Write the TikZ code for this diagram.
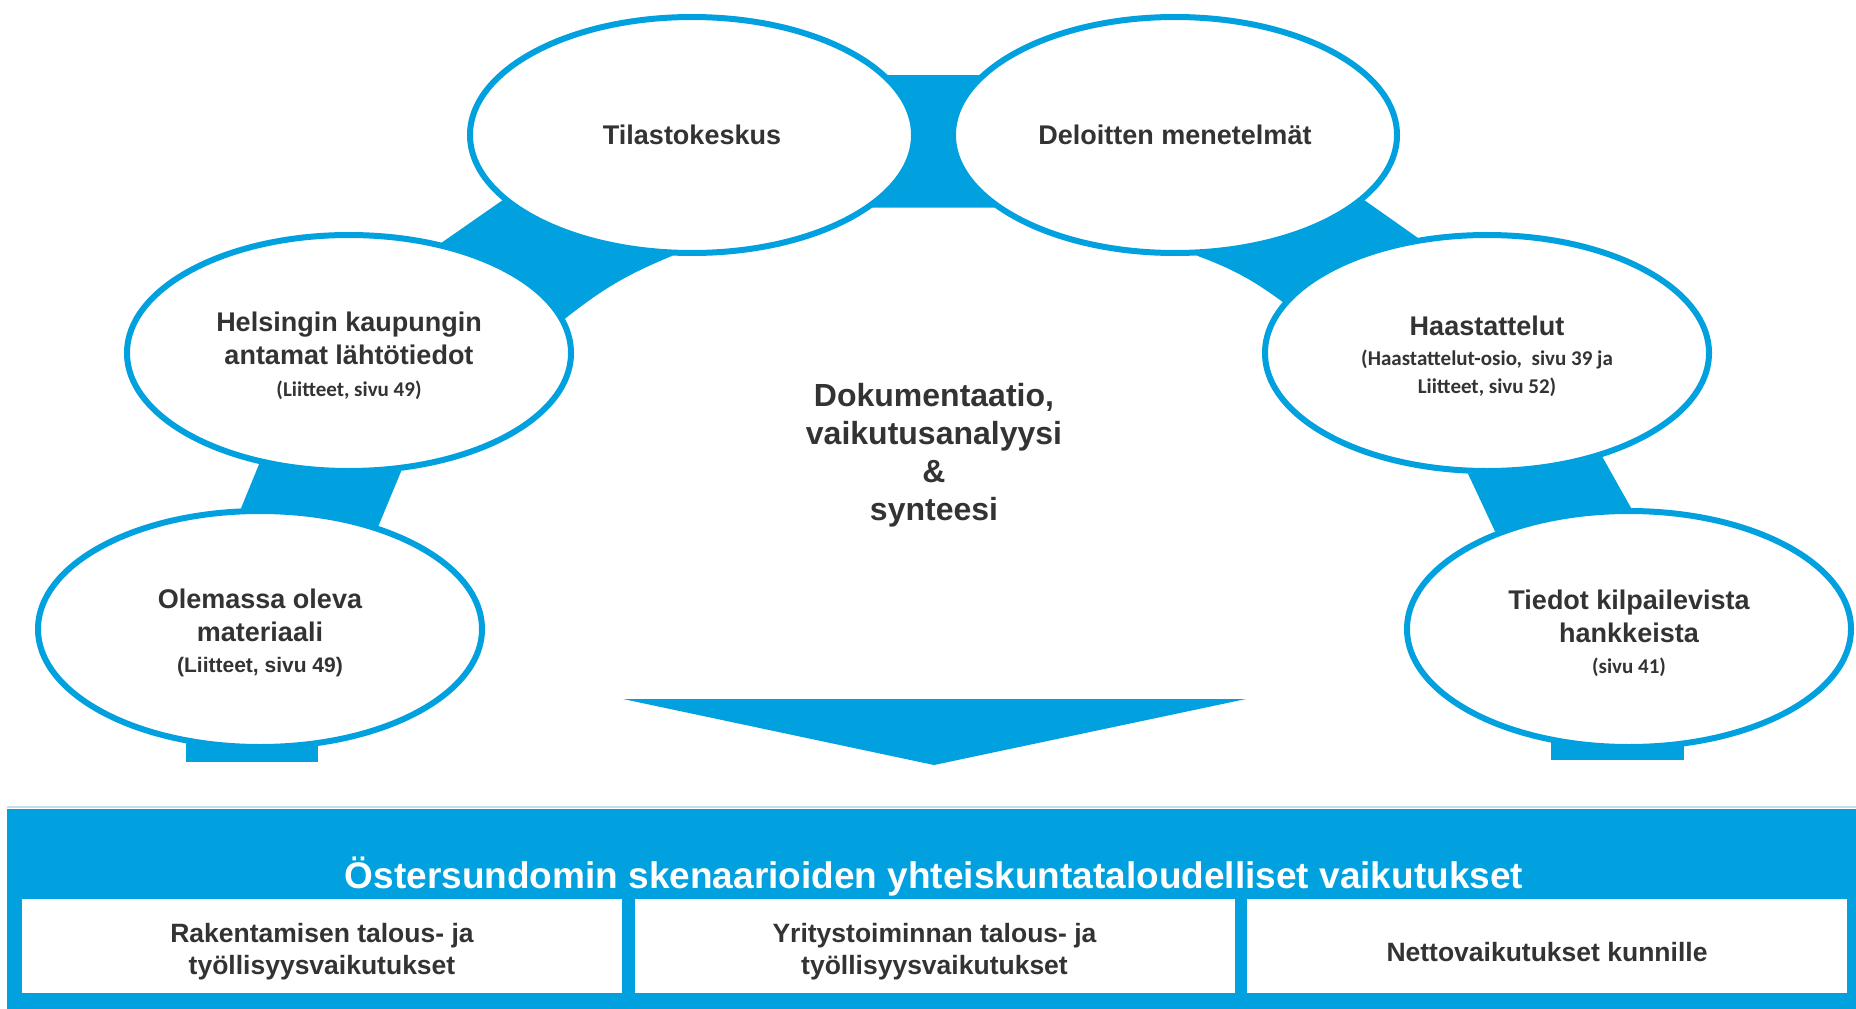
\documentclass[tikz,border=0pt]{standalone}
\usepackage{fontspec}
\setmainfont{Liberation Sans}
\newfontfamily\calibri{Carlito}
\usepackage{xcolor}
\usetikzlibrary{shapes.geometric,backgrounds,calc}

\definecolor{ringblue}{RGB}{0,161,222}
\definecolor{txtgray}{RGB}{51,51,51}
\definecolor{rimline}{RGB}{196,222,236}
\newcommand{\sivu}[1]{{\calibri\fontsize{21}{25}\selectfont #1}}
\newcommand{\drop}[1]{\rule{0pt}{#1}}

\begin{document}
\begin{tikzpicture}[x=1pt, y=-1pt,
      bubble/.style={ellipse, draw=ringblue, line width=6pt, fill=white,
         minimum width=444pt, minimum height=236pt, inner sep=0pt,
         align=center, text=txtgray, font=\bfseries\fontsize{27}{33}\selectfont},
      effect/.style={fill=white, minimum width=600pt, minimum height=94pt,
         inner sep=0pt, align=center, text=txtgray,
         font=\bfseries\fontsize{26.5}{32}\selectfont}]
      \useasboundingbox (0,0) rectangle (1856,1009);

      \node[bubble, name=tila] at (692,135) {Tilastokeskus};
      \node[bubble, name=deloitte] at (1175,135) {Deloitten menetelmät};
      \node[bubble, name=hels] at (349,353) {\drop{26pt}Helsingin kaupungin\\antamat lähtötiedot\\[-1pt]\sivu{(Liitteet, sivu 49)}};
      \node[bubble, name=haast] at (1487,353) {\drop{26pt}Haastattelut\\[-3pt]\sivu{(Haastattelut-osio,\ \ sivu 39 ja}\\[-5pt]\sivu{Liitteet, sivu 52)}};
      \node[bubble, name=olem] at (260,629) {\drop{28pt}Olemassa oleva\\materiaali\\[-2pt]{\fontsize{21}{25}\selectfont (Liitteet, sivu 49)}};
      \node[bubble, name=tiedot] at (1629,629) {\drop{28pt}Tiedot kilpailevista\\hankkeista\\[-2pt]\sivu{(sivu 41)}};

      \node[align=center, text=txtgray, font=\bfseries\fontsize{32}{38}\selectfont, name=synteesi] at (934,455)
         {Dokumentaatio,\\vaikutusanalyysi\\\&\\synteesi};

      \fill[ringblue] (623,699) -- (1246,699) -- (934,765) -- cycle;

      \fill[ringblue] (7,809) rectangle (1856,1009);
      \draw[rimline, line width=2pt] (7,807) -- (1856,807);
      \node[text=white, font=\bfseries\fontsize{37}{42}\selectfont, name=otsikko] at (934,877)
         {Östersundomin skenaarioiden yhteiskuntataloudelliset vaikutukset};
      \node[effect, name=rak] at (322,946) {\drop{31pt}Rakentamisen talous- ja\\työllisyysvaikutukset};
      \node[effect, name=yri] at (934.5,946) {\drop{31pt}Yritystoiminnan talous- ja\\työllisyysvaikutukset};
      \node[effect, name=netto] at (1547,946) {\drop{31pt}Nettovaikutukset kunnille};

      \begin{scope}[on background layer]
         \fill[white] (0,0) rectangle (1856,1009);
         \fill[ringblue] (tila.17) -- (deloitte.163) -- (deloitte.202) -- (tila.338) -- cycle;
         \fill[ringblue] (tila.199) -- (hels.50) -- (hels.9) to[bend left=8] (tila.261) -- cycle;
         \fill[ringblue] (deloitte.341) -- (haast.121) -- (haast.166) to[bend right=8] (deloitte.280) -- cycle;
         \fill[ringblue] (hels.231) -- (hels.294) -- (olem.41) -- (olem.99) -- cycle;
         \fill[ringblue] (haast.261) -- (haast.318) -- (tiedot.89) -- (tiedot.144) -- cycle;
         \fill[ringblue] ($(olem.south)+(-74,-30)$) rectangle ($(olem.south)+(58,12)$);
         \fill[ringblue] ($(tiedot.south)+(-78,-30)$) rectangle ($(tiedot.south)+(55,10)$);
      \end{scope}
   \end{tikzpicture}
\end{document}
